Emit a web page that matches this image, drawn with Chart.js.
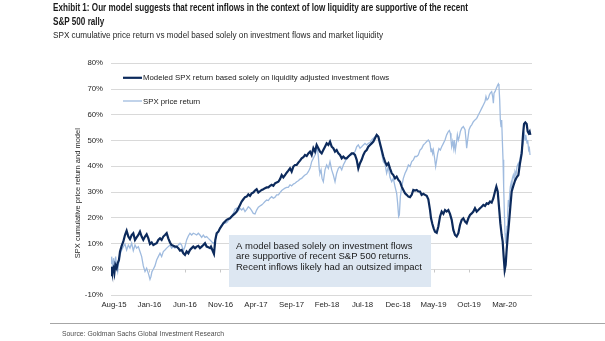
<!DOCTYPE html>
<html>
<head>
<meta charset="utf-8">
<script src="https://cdn.jsdelivr.net/npm/chart.js@4.4.1/dist/chart.umd.min.js"></script>
<style>
  html, body { margin: 0; padding: 0; background: #fff; }
  #wrap { position: relative; width: 605px; height: 341px; overflow: hidden; }
  #c { position: absolute; left: 0; top: 0; }
  .txt { position: absolute; white-space: nowrap; transform-origin: 0 0; line-height: 1;
         font-family: "Liberation Sans Narrow", "Liberation Sans", Arial, sans-serif; }
  .head { font-weight: bold; font-size: 10.5px; color: #1a1a1a; }
  #sub { font-size: 9.5px; color: #262626; }
  #src { font-size: 7.8px; color: #4d4d4d; }
  #rule { position: absolute; left: 50px; top: 323px; width: 555px; height: 1px; background: #a6a6a6; }
</style>
</head>
<body>
<div id="wrap">
  <canvas id="c" width="605" height="341"></canvas>
  <div class="txt head" id="title1" style="left:53px;top:1.8px" data-w="415">Exhibit 1: Our model suggests that recent inflows in the context of low liquidity are supportive of the recent</div>
  <div class="txt head" id="title2" style="left:53px;top:15.6px">S&amp;P 500 rally</div>
  <div class="txt" id="sub" style="left:53px;top:30px" data-w="330">SPX cumulative price return vs model based solely on investment flows and market liquidity</div>
  <div id="rule"></div>
  <div class="txt" id="src" style="left:62px;top:330px" data-w="162">Source: Goldman Sachs Global Investment Research</div>
</div>
<script>
// X positions are months counted from Aug-15; values are cumulative returns in %.
const tickMonths = [0, 5, 10, 15, 20, 25, 30, 35, 40, 45, 50, 55];
const tickLabels = ['Aug-15', 'Jan-16', 'Jun-16', 'Nov-16', 'Apr-17', 'Sep-17',
                    'Feb-18', 'Jul-18', 'Dec-18', 'May-19', 'Oct-19', 'Mar-20'];

const seriesNames = ['Modeled SPX return based solely on liquidity adjusted investment flows',
                     'SPX price return'];

// Modeled SPX return based on liquidity adjusted investment flows
const modelReturn = [
  [-0.42,1.0],[-0.28,-0.9],[-0.09,0.4],[0.05,-1.6],[0.19,1.7],[0.38,0.4],[0.52,2.3],[0.70,3.6],[0.85,6.9],[1.08,9.1],
  [1.31,10.7],[1.55,13.3],[1.78,15.0],[2.02,12.7],[2.25,11.7],[2.49,13.3],[2.72,14.0],[2.96,11.4],[3.19,12.4],[3.43,13.3],
  [3.66,14.6],[3.90,12.7],[4.13,11.4],[4.37,12.7],[4.60,13.6],[4.84,12.0],[5.07,9.8],[5.31,10.4],[5.54,9.4],[5.77,9.8],
  [6.01,10.1],[6.24,11.4],[6.48,12.0],[6.71,11.4],[6.95,12.7],[7.18,13.3],[7.42,14.0],[7.65,12.0],[7.89,10.4],[8.12,9.4],
  [8.36,9.1],[8.59,8.8],[8.83,8.8],[9.06,8.2],[9.30,7.2],[9.53,7.5],[9.77,6.2],[10.00,5.6],[10.23,6.9],[10.47,6.2],
  [10.70,7.5],[10.94,8.2],[11.17,8.8],[11.41,8.2],[11.64,8.8],[11.88,9.1],[12.11,8.2],[12.35,8.8],[12.58,9.4],[12.82,10.1],
  [13.05,8.8],[13.29,8.5],[13.52,8.2],[13.66,8.8],[13.94,6.9],[14.08,6.0],[14.27,11.4],[14.46,14.0],[14.70,14.6],[14.93,15.9],
  [15.16,16.8],[15.40,17.9],[15.63,18.5],[15.87,19.2],[16.10,19.5],[16.34,19.8],[16.57,20.5],[16.81,21.1],[17.04,21.7],[17.28,22.4],
  [17.51,23.7],[17.75,25.0],[17.98,26.3],[18.22,27.2],[18.45,28.0],[18.69,28.2],[18.92,29.1],[19.16,28.5],[19.39,29.5],[19.62,29.8],
  [19.86,30.6],[20.09,31.1],[20.33,29.8],[20.56,30.3],[20.80,30.8],[21.03,31.1],[21.27,31.5],[21.50,31.8],[21.74,31.8],[21.97,32.4],
  [22.21,32.8],[22.44,32.4],[22.68,33.4],[22.91,33.7],[23.15,34.0],[23.38,35.0],[23.62,36.6],[23.85,35.7],[24.09,36.6],[24.32,37.5],
  [24.55,38.3],[24.79,39.2],[25.02,37.9],[25.26,39.9],[25.49,40.5],[25.73,40.5],[25.96,41.4],[26.20,42.2],[26.43,43.1],[26.67,43.5],
  [26.90,44.4],[27.14,44.0],[27.37,45.0],[27.61,45.7],[27.84,44.4],[28.08,47.0],[28.31,45.7],[28.54,48.3],[28.78,47.0],[29.01,45.7],
  [29.25,45.0],[29.48,46.3],[29.72,47.6],[29.95,48.9],[30.19,48.3],[30.42,49.6],[30.66,47.6],[30.89,47.0],[31.13,45.7],[31.36,46.3],
  [31.60,45.0],[31.83,44.4],[32.07,43.1],[32.30,43.8],[32.54,43.1],[32.77,43.1],[33.01,43.8],[33.24,44.4],[33.47,45.0],[33.71,45.0],
  [33.94,44.4],[34.18,42.5],[34.41,39.2],[34.65,41.2],[34.88,42.5],[35.12,44.4],[35.35,45.7],[35.59,46.3],[35.82,47.6],[36.06,48.3],
  [36.29,48.9],[36.53,49.6],[36.76,50.9],[37.00,52.2],[37.23,51.5],[37.46,48.9],[37.70,46.3],[37.93,43.8],[38.17,41.8],[38.40,40.5],
  [38.64,41.2],[38.87,39.2],[39.11,37.3],[39.34,36.6],[39.58,35.3],[39.81,36.0],[40.05,34.7],[40.28,34.0],[40.52,32.1],[40.75,30.8],
  [40.99,29.5],[41.22,28.9],[41.46,28.2],[41.69,28.0],[41.93,28.9],[42.16,30.8],[42.39,30.6],[42.63,30.8],[42.86,30.2],[43.10,30.2],
  [43.33,28.9],[43.57,29.3],[43.80,28.9],[44.04,28.5],[44.27,27.2],[44.51,23.0],[44.65,19.8],[44.84,17.6],[45.02,15.9],[45.21,14.6],
  [45.45,14.2],[45.68,16.6],[45.92,20.5],[46.15,22.4],[46.39,21.5],[46.62,23.0],[46.85,22.4],[47.09,23.0],[47.32,21.5],[47.56,19.2],
  [47.79,15.3],[48.03,13.3],[48.26,12.7],[48.50,14.0],[48.73,17.2],[48.97,19.2],[49.20,19.8],[49.44,18.5],[49.67,17.9],[49.91,19.8],
  [50.14,21.1],[50.38,21.7],[50.61,22.4],[50.84,23.7],[51.08,22.4],[51.31,23.0],[51.55,23.7],[51.78,24.3],[52.02,25.0],[52.25,24.6],
  [52.49,25.6],[52.72,25.4],[52.96,26.3],[53.19,25.9],[53.43,27.6],[53.66,30.2],[53.85,32.1],[54.04,30.2],[54.22,24.3],[54.41,17.9],
  [54.60,13.3],[54.74,10.7],[54.88,4.9],[55.02,-0.3],[55.16,1.7],[55.30,7.5],[55.45,12.7],[55.63,17.9],[55.82,24.3],[56.01,30.2],
  [56.24,32.4],[56.48,34.4],[56.71,35.7],[56.95,36.6],[57.18,41.2],[57.42,45.0],[57.62,52.8],[57.75,56.4],[57.93,57.0],[58.12,56.4],
  [58.26,53.5],[58.40,52.8],[58.54,53.5],[58.64,52.2]
];

// SPX cumulative price return
const spxReturn = [
  [-0.42,2.3],[-0.33,4.9],[-0.19,0.4],[-0.05,4.3],[0.09,-0.3],[0.23,4.9],[0.38,1.0],[0.52,-0.9],[0.70,3.6],[0.85,5.6],
  [1.08,7.5],[1.31,8.8],[1.55,9.8],[1.78,7.5],[2.02,9.4],[2.25,8.2],[2.49,10.1],[2.72,7.2],[2.96,9.4],[3.19,8.2],
  [3.43,8.8],[3.66,6.9],[3.90,4.9],[4.13,1.3],[4.37,-0.9],[4.60,0.4],[4.84,-1.6],[5.07,-3.9],[5.21,-2.8],[5.35,-0.9],
  [5.54,0.0],[5.77,1.3],[6.01,3.6],[6.24,4.9],[6.48,6.2],[6.71,4.9],[6.95,6.9],[7.18,7.5],[7.42,8.2],[7.65,8.8],
  [7.89,9.4],[8.12,8.2],[8.36,8.8],[8.59,8.2],[8.83,8.8],[9.06,9.4],[9.30,10.1],[9.53,9.4],[9.77,7.2],[10.00,8.8],
  [10.23,11.4],[10.47,12.9],[10.70,14.0],[10.94,13.3],[11.17,14.0],[11.41,13.7],[11.64,13.3],[11.88,14.0],[12.11,13.3],[12.35,12.4],
  [12.58,13.3],[12.82,12.4],[13.05,12.7],[13.29,12.0],[13.52,11.4],[13.76,10.7],[13.99,10.1],[14.23,10.7],[14.46,13.3],[14.70,14.6],
  [14.93,15.9],[15.16,17.2],[15.40,17.6],[15.63,17.9],[15.87,18.1],[16.10,18.9],[16.34,19.8],[16.57,20.7],[16.81,21.7],[17.04,23.3],
  [17.28,23.7],[17.51,22.8],[17.75,23.7],[17.98,23.0],[18.22,23.7],[18.45,22.4],[18.69,23.3],[18.92,24.3],[19.16,23.7],[19.39,22.8],
  [19.62,21.7],[19.86,21.5],[20.09,23.0],[20.33,24.1],[20.56,24.6],[20.80,25.0],[21.03,25.6],[21.27,26.3],[21.50,26.9],[21.74,26.7],
  [21.97,27.6],[22.21,28.2],[22.44,27.6],[22.68,28.0],[22.91,28.9],[23.15,28.9],[23.38,29.8],[23.62,30.6],[23.85,31.1],[24.09,31.5],
  [24.32,31.8],[24.55,31.8],[24.79,32.8],[25.02,32.4],[25.26,33.1],[25.49,33.4],[25.73,34.0],[25.96,34.4],[26.20,35.0],[26.43,35.3],
  [26.67,36.0],[26.90,36.6],[27.14,37.0],[27.37,37.9],[27.61,39.2],[27.84,41.8],[28.08,43.1],[28.31,44.4],[28.54,46.3],[28.64,47.0],
  [28.78,43.8],[28.92,38.6],[29.01,37.3],[29.16,38.6],[29.30,35.3],[29.48,34.0],[29.72,38.6],[29.95,40.5],[30.19,39.2],[30.42,41.8],
  [30.66,38.6],[30.89,36.6],[31.13,34.0],[31.36,37.3],[31.60,39.2],[31.83,39.9],[32.07,38.6],[32.30,40.5],[32.54,41.8],[32.77,43.1],
  [33.01,43.8],[33.24,44.4],[33.47,44.4],[33.71,45.0],[33.94,45.7],[34.18,47.6],[34.41,48.3],[34.65,47.0],[34.88,47.6],[35.12,48.3],
  [35.35,48.9],[35.59,48.3],[35.82,48.9],[36.06,49.2],[36.29,50.2],[36.53,50.9],[36.76,51.5],[37.00,52.2],[37.23,51.8],[37.46,48.9],
  [37.70,45.0],[37.93,41.8],[38.17,40.9],[38.40,37.3],[38.64,39.9],[38.87,35.7],[39.11,34.0],[39.34,35.3],[39.58,32.1],[39.81,29.5],
  [39.95,25.6],[40.09,20.5],[40.19,21.1],[40.33,28.2],[40.52,32.1],[40.75,35.3],[40.99,37.3],[41.22,38.6],[41.46,40.5],[41.69,39.9],
  [41.93,41.8],[42.16,42.5],[42.39,43.8],[42.63,43.8],[42.86,44.4],[43.10,46.3],[43.33,46.9],[43.57,48.3],[43.80,48.9],[44.04,49.6],
  [44.27,50.2],[44.41,49.6],[44.51,48.9],[44.65,45.7],[44.74,47.0],[44.88,45.0],[44.98,46.3],[45.12,43.8],[45.30,39.9],[45.45,42.5],
  [45.59,45.0],[45.77,46.9],[45.96,46.3],[46.15,47.6],[46.39,48.9],[46.62,50.2],[46.85,52.2],[47.09,53.5],[47.23,53.9],[47.37,52.8],
  [47.46,50.2],[47.56,47.6],[47.70,49.6],[47.84,47.0],[47.93,50.2],[48.07,46.3],[48.22,48.9],[48.36,52.2],[48.50,50.2],[48.64,51.5],
  [48.78,53.5],[48.97,54.8],[49.20,55.4],[49.44,54.2],[49.58,50.2],[49.67,47.0],[49.81,50.2],[50.00,54.2],[50.19,55.4],[50.38,56.1],
  [50.61,57.3],[50.84,58.0],[51.08,58.6],[51.31,59.9],[51.55,61.2],[51.78,62.5],[52.02,63.8],[52.25,65.1],[52.39,67.1],[52.53,65.8],
  [52.72,66.4],[52.86,67.7],[53.00,68.4],[53.19,69.0],[53.33,67.1],[53.43,64.5],[53.52,68.4],[53.66,69.0],[53.85,70.3],[54.04,71.6],
  [54.13,72.0],[54.22,71.0],[54.32,65.8],[54.41,58.0],[54.51,55.4],[54.60,58.0],[54.69,50.2],[54.79,42.5],[54.88,32.1],[54.98,21.7],
  [55.07,14.0],[55.16,10.0],[55.26,12.0],[55.35,16.6],[55.45,21.7],[55.54,26.9],[55.63,24.3],[55.73,29.5],[55.82,32.1],[55.92,33.4],
  [56.01,30.8],[56.10,35.3],[56.24,36.6],[56.38,34.7],[56.48,37.9],[56.62,36.6],[56.76,39.9],[56.95,41.2],[57.09,39.2],[57.23,43.8],
  [57.42,46.3],[57.62,48.9],[57.75,53.5],[57.89,50.2],[57.99,52.2],[58.17,49.0],[58.26,50.2],[58.40,46.3],[58.50,47.0],[58.59,44.4]
];

const noteLines = ['A model based solely on investment flows',
                   'are supportive of recent S&P 500 returns.',
                   'Recent inflows likely had an outsized impact'];

const FONT = "'Liberation Sans', Arial, sans-serif";
const NAVY = '#0c2a5c';
const LIGHT = '#9fbbdf';
const GRID = '#d9d9d9';

// Stretch or squeeze the header lines so they run the set widths.
function fitWidth(el, w) {
  const natural = el.getBoundingClientRect().width;
  const k = w / natural;
  el.style.transform = 'scaleX(' + k + ')';
  return k;
}
const kHead = fitWidth(document.getElementById('title1'), 415);
document.getElementById('title2').style.transform = 'scaleX(' + kHead + ')';
fitWidth(document.getElementById('sub'), 330);
fitWidth(document.getElementById('src'), 162);

// Axis title, inset legend, text box and the small ticks on the 0% line.
const decorations = {
  id: 'decorations',
  beforeDatasetsDraw(chart) {
    const { ctx, chartArea, scales } = chart;
    const y0 = Math.round(scales.y.getPixelForValue(0)) + 0.5;
    ctx.save();
    ctx.strokeStyle = '#c8c8c8';
    ctx.lineWidth = 1;
    tickMonths.forEach(m => {
      const x = Math.round(scales.x.getPixelForValue(m)) + 0.5;
      ctx.beginPath(); ctx.moveTo(x, y0); ctx.lineTo(x, y0 + 3); ctx.stroke();
    });
    // y-axis title
    ctx.translate(chartArea.left - 33, (chartArea.top + chartArea.bottom) / 2 + 14);
    ctx.rotate(-Math.PI / 2);
    ctx.fillStyle = '#262626';
    ctx.font = '7.5px ' + FONT;
    ctx.textAlign = 'center';
    ctx.textBaseline = 'middle';
    ctx.fillText('SPX cumulative price return and model', 0, 0);
    ctx.restore();
  },
  afterDatasetsDraw(chart) {
    const { ctx, chartArea, scales } = chart;
    ctx.save();
    // legend inside the plot
    const lx = chartArea.left + 12;
    const rows = [chartArea.top + 14.5, chartArea.top + 37.7];
    chart.data.datasets.forEach((ds, i) => {
      const y = rows[i];
      ctx.strokeStyle = ds.borderColor;
      ctx.lineWidth = ds.borderWidth;
      ctx.beginPath(); ctx.moveTo(lx, y); ctx.lineTo(lx + 19, y); ctx.stroke();
      ctx.fillStyle = '#1a1a1a';
      ctx.font = '7.8px ' + FONT;
      ctx.textAlign = 'left';
      ctx.textBaseline = 'middle';
      ctx.fillText(ds.label, lx + 20, y + 0.5);
    });
    // note box
    const bx0 = scales.x.getPixelForValue(16.2), bx1 = scales.x.getPixelForValue(44.65);
    const by0 = scales.y.getPixelForValue(13.3), by1 = scales.y.getPixelForValue(-6.9);
    ctx.fillStyle = '#dde7f2';
    ctx.fillRect(bx0, by0, bx1 - bx0, by1 - by0);
    ctx.fillStyle = '#1a1a1a';
    ctx.font = '9.5px ' + FONT;
    ctx.textAlign = 'left';
    ctx.textBaseline = 'alphabetic';
    noteLines.forEach((t, i) => ctx.fillText(t, bx0 + 7, by0 + 13.5 + i * 10.8));
    ctx.restore();
  }
};

new Chart(document.getElementById('c'), {
  type: 'line',
  data: {
    datasets: [
      { label: seriesNames[0], data: modelReturn.map(p => ({ x: p[0], y: p[1] })),
        borderColor: NAVY, borderWidth: 2.2, pointRadius: 0, tension: 0, fill: false },
      { label: seriesNames[1], data: spxReturn.map(p => ({ x: p[0], y: p[1] })),
        borderColor: LIGHT, borderWidth: 1.3, pointRadius: 0, tension: 0, fill: false }
    ]
  },
  options: {
    responsive: false,
    animation: false,
    devicePixelRatio: 1,
    layout: { padding: { left: 71, right: 73, top: 63.3, bottom: 26 } },
    plugins: { legend: { display: false }, tooltip: { enabled: false }, title: { display: false } },
    scales: {
      x: {
        type: 'linear', min: -0.42, max: 58.87,
        afterFit: s => { s.height = 20; },
        afterBuildTicks: s => { s.ticks = tickMonths.map(v => ({ value: v })); },
        grid: { display: false, drawTicks: false },
        border: { display: false },
        ticks: { autoSkip: false, maxRotation: 0, padding: 5, color: '#262626',
                 font: { family: FONT, size: 7.8 },
                 callback: (v, i) => tickLabels[i] }
      },
      y: {
        min: -10, max: 80,
        afterFit: s => { s.width = 40; },
        grid: { color: GRID, lineWidth: 1, drawTicks: false },
        border: { display: false },
        ticks: { stepSize: 10, padding: 8, color: '#262626',
                 font: { family: FONT, size: 7.8 },
                 callback: v => v + '%' }
      }
    }
  },
  plugins: [decorations]
});
</script>
</body>
</html>
